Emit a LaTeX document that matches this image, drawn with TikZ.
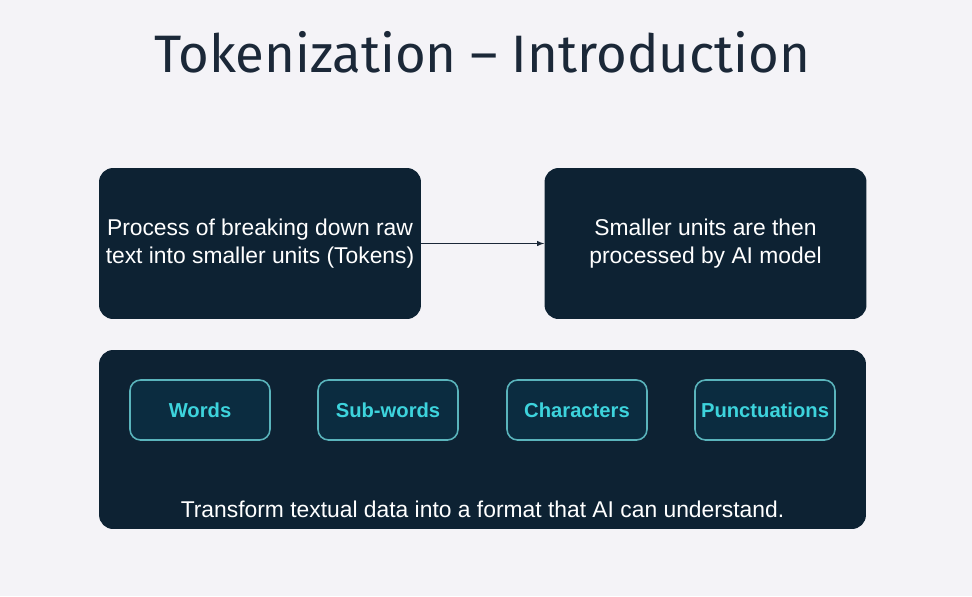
\documentclass[tikz,border=0pt]{standalone}
\usepackage{fontspec}
\setmainfont{Liberation Sans}
\newfontfamily\titlefont{Fira Sans}
\usetikzlibrary{positioning}
\definecolor{pagebg}{HTML}{F4F3F7}
\definecolor{navy}{HTML}{0D2233}
\definecolor{tagfill}{HTML}{0B2C40}
\definecolor{tagline}{HTML}{5AB4BC}
\definecolor{tagtext}{HTML}{3DD3DC}
\definecolor{titleink}{HTML}{1B2838}
\tikzset{
  bigbox/.style={draw=none, fill=navy, rounded corners=8pt, text=white,
    minimum width=6.44cm, minimum height=3.02cm, align=center, font=\fontsize{13}{15.5}\selectfont},
  tagbox/.style={draw=tagline, line width=0.9pt, fill=tagfill, rounded corners=6pt,
    text=tagtext, minimum width=2.8cm, minimum height=1.2cm, font=\bfseries\fontsize{11.5}{14}\selectfont}
}
\begin{document}
\begin{tikzpicture}[x=0.02cm, y=-0.02cm]
\fill[pagebg] (0,0) rectangle (972,596);
\useasboundingbox (0,0) rectangle (972,596);
\node[text=titleink, font=\titlefont\fontsize{30}{34}\selectfont] (title) at (482,52) {Tokenization – Introduction};
\node[bigbox] (process) at (260,243.5) {Process of breaking down raw\\text into smaller units (Tokens)};
\node[bigbox] (model) at (705.5,243.5) {Smaller units are then\\processed by AI model};
\draw[-latex, thin, titleink] (process) -- (model);
\node[bigbox, minimum width=15.34cm, minimum height=3.58cm] (types) at (482.5,439.5) {};
\node[tagbox] (words) at (200,410) {Words};
\node[tagbox] (subwords) at (388,410) {Sub-words};
\node[tagbox] (chars) at (577,410) {Characters};
\node[tagbox] (punct) at (765,410) {Punctuations};
\node[text=white, font=\fontsize{13}{15.5}\selectfont] (goal) at (482.5,509) {Transform textual data into a format that AI can understand.};
\end{tikzpicture}
\end{document}
